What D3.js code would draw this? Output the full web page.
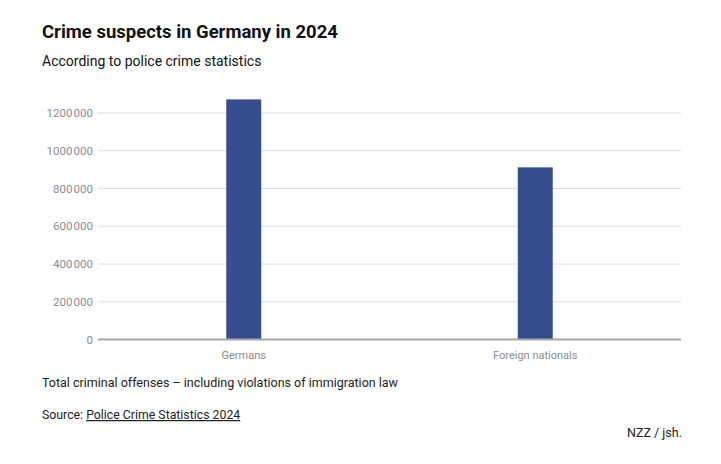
<!DOCTYPE html>
<html>
<head>
<meta charset="utf-8">
<script src="https://cdn.jsdelivr.net/npm/d3@7"></script>
<style>
  body { margin: 0; background: #fff; }
  svg text { font-family: Roboto, "Noto Sans", sans-serif; }
</style>
</head>
<body>
<svg id="chart" width="721" height="464"></svg>
<script>
// chart data
const categories = ["Germans", "Foreign nationals"];
const suspects = [1272000, 912000];
const yTicks = [0, 200000, 400000, 600000, 800000, 1000000, 1200000];

const svg = d3.select("#chart");
const margin = { top: 90, right: 40, bottom: 125, left: 98 },
    width = 721 - margin.left - margin.right,
    height = 464 - margin.top - margin.bottom;

// titles
svg.append("text")
    .attr("x", 42).attr("y", 38)
    .attr("font-size", "18.5px").attr("font-weight", 700).attr("fill", "#111")
    .text("Crime suspects in Germany in 2024");

svg.append("text")
    .attr("x", 42).attr("y", 66)
    .attr("font-size", "14px").attr("fill", "#111")
    .text("According to police crime statistics");

const g = svg.append("g").attr("transform", "translate(" + margin.left + "," + margin.top + ")");

const y = d3.scaleLinear().domain([0, 1200000]).range([249.5, 23]);
const x = d3.scalePoint().domain(categories).range([0, width]).padding(0.5);

// number format: 1200 000
const fmt = v => {
    if (v === 0) return "0";
    const s = String(v);
    return s.slice(0, -3) + "\u200A" + s.slice(-3);
};

// grid lines
g.selectAll("line.grid")
    .data(yTicks.filter(d => d > 0))
    .enter().append("line")
    .attr("x1", 0).attr("x2", width)
    .attr("y1", d => y(d)).attr("y2", d => y(d))
    .attr("stroke", "#dcdce0").attr("stroke-width", 1);

// tick labels
g.selectAll("text.tick")
    .data(yTicks)
    .enter().append("text")
    .attr("x", -5).attr("y", d => y(d) + 4)
    .attr("text-anchor", "end")
    .attr("font-size", "11.5px").attr("fill", "#8a8a92")
    .text(fmt);

// bars
const barWidth = 35;
g.selectAll("rect.bar")
    .data(suspects)
    .enter().append("rect")
    .attr("x", (d, i) => x(categories[i]) - barWidth / 2)
    .attr("y", d => y(d))
    .attr("width", barWidth)
    .attr("height", d => y(0) - y(d))
    .attr("fill", "#374e8e");

// baseline
g.append("line")
    .attr("x1", 0).attr("x2", width)
    .attr("y1", y(0)).attr("y2", y(0))
    .attr("stroke", "#a8a8ac").attr("stroke-width", 2);

// category labels
g.selectAll("text.cat")
    .data(categories)
    .enter().append("text")
    .attr("x", d => x(d)).attr("y", y(0) + 19)
    .attr("text-anchor", "middle")
    .attr("font-size", "11px").attr("fill", "#8a8a92")
    .text(d => d);

// footnotes
svg.append("text")
    .attr("x", 42).attr("y", 387)
    .attr("font-size", "12.5px").attr("fill", "#222")
    .text("Total criminal offenses \u2013 including violations of immigration law");

const src = svg.append("text")
    .attr("x", 42).attr("y", 419)
    .attr("font-size", "12.3px").attr("fill", "#222");
src.append("tspan").text("Source: ");
src.append("tspan").attr("text-decoration", "underline").text("Police Crime Statistics 2024");

svg.append("text")
    .attr("x", 682).attr("y", 437)
    .attr("text-anchor", "end")
    .attr("font-size", "12.5px").attr("fill", "#222")
    .text("NZZ / jsh.");
</script>
</body>
</html>
